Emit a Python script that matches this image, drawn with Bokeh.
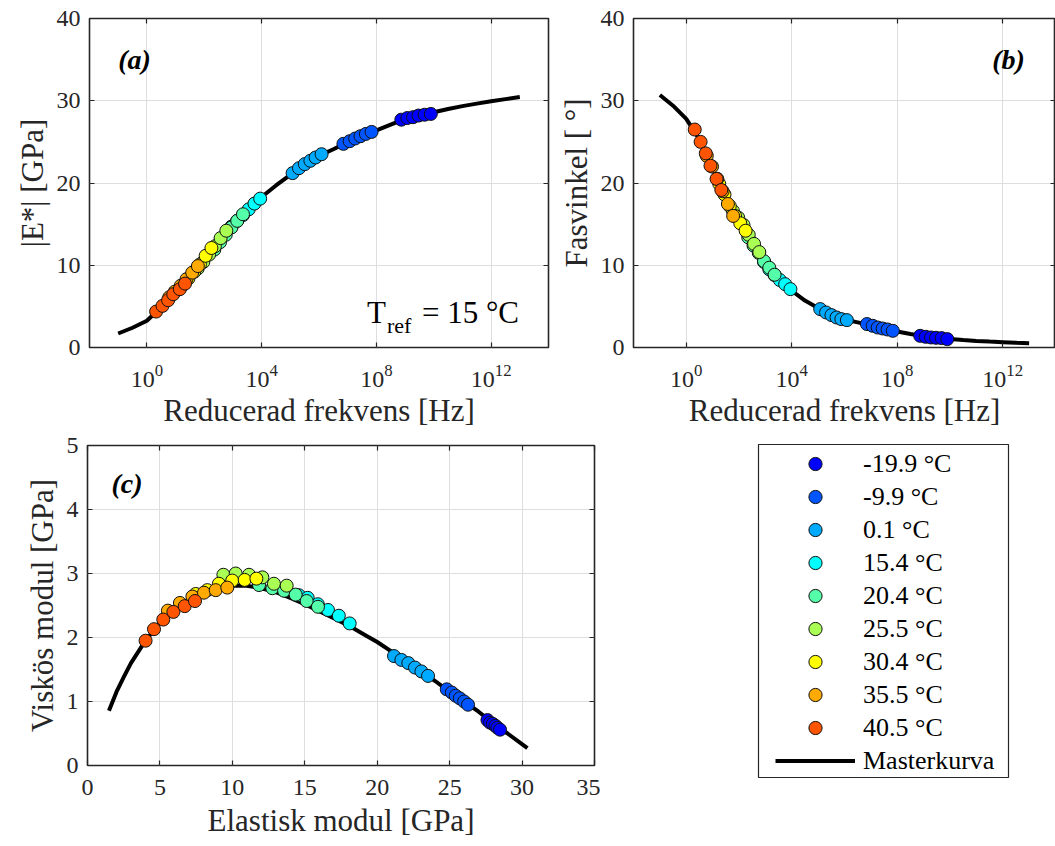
from bokeh.plotting import figure
from bokeh.layouts import column, row
from bokeh.models import Range1d, FixedTicker, LogAxis, LinearAxis, Label, Legend, LegendItem
from bokeh.embed import file_html
from bokeh.resources import INLINE

# ---------------- data ----------------
temps = ["-19.9 °C", "-9.9 °C", "0.1 °C", "15.4 °C", "20.4 °C",
         "25.5 °C", "30.4 °C", "35.5 °C", "40.5 °C"]
colors = ["#0000FF", "#0055FF", "#00AAFF", "#00FFFF", "#55FFAA",
          "#AAFF55", "#FFFF00", "#FFAA00", "#FF5500"]

# reduced frequency [Hz] per temperature
freq_hz = [
    [7.4e8, 1.2e9, 1.9e9, 2.95e9, 4.8e9, 7.9e9],
    [7.1e6, 1.17e7, 1.82e7, 2.8e7, 4.3e7, 6.8e7],
    [1.2e5, 2.0e5, 3.2e5, 5.0e5, 7.6e5, 1.23e6],
    [890, 1410, 2240, 3550, 5620, 8910],
    [224, 355, 562, 891, 1413, 2239],
    [59, 93, 148, 234, 372, 589],
    [17.8, 28.2, 44.7, 70.8, 112, 178],
    [6.0, 9.5, 15.1, 24, 38, 60],
    [2.1, 3.5, 5.5, 8.3, 14.1, 21.4],
]
# |E*| [GPa]
abs_mod = [
    [27.7, 27.9, 28.0, 28.2, 28.3, 28.4],
    [24.76, 25.08, 25.41, 25.69, 25.97, 26.21],
    [21.2, 21.8, 22.3, 22.7, 23.1, 23.5],
    [14.7, 15.4, 16.1, 16.8, 17.5, 18.1],
    [11.9, 12.8, 13.7, 14.6, 15.4, 16.2],
    [9.6, 10.4, 11.3, 12.3, 13.3, 14.2],
    [7.6, 8.4, 9.2, 10.1, 11.15, 12.1],
    [6.1, 6.8, 7.5, 8.3, 9.1, 9.9],
    [4.37, 5.06, 5.75, 6.48, 7.09, 7.77],
]
# phase angle [deg]
phase_deg = [
    [1.42, 1.30, 1.22, 1.18, 1.14, 1.02],
    [2.85, 2.64, 2.43, 2.31, 2.19, 2.03],
    [4.67, 4.26, 3.94, 3.65, 3.45, 3.33],
    [10.4, 9.5, 8.8, 8.2, 7.7, 7.1],
    [13.4, 12.4, 11.5, 10.5, 9.7, 8.85],
    [16.6, 15.8, 14.9, 13.7, 12.6, 11.6],
    [19.9, 18.6, 17.2, 16.0, 15.1, 14.2],
    [23.3, 22.0, 20.5, 19.0, 17.45, 16.0],
    [26.5, 25.0, 23.6, 22.1, 20.5, 19.15],
]
# elastic modulus E' [GPa]
elastic = [
    [27.61, 27.79, 27.98, 28.16, 28.3, 28.48],
    [24.8, 25.15, 25.42, 25.7, 26.0, 26.27],
    [21.16, 21.67, 22.15, 22.61, 23.05, 23.51],
    [14.6, 15.2, 15.9, 16.6, 17.35, 18.1],
    [11.84, 12.76, 13.57, 14.37, 15.13, 15.91],
    [9.38, 10.23, 11.15, 12.07, 12.87, 13.75],
    [7.47, 8.27, 9.07, 9.99, 10.85, 11.66],
    [5.55, 6.38, 7.24, 8.04, 8.85, 9.65],
    [4.01, 4.59, 5.23, 5.93, 6.71, 7.42],
]
# viscous modulus E'' [GPa]
viscous = [
    [0.71, 0.67, 0.65, 0.62, 0.59, 0.56],
    [1.19, 1.14, 1.09, 1.05, 1.0, 0.95],
    [1.71, 1.65, 1.60, 1.53, 1.47, 1.40],
    [2.66, 2.62, 2.52, 2.43, 2.34, 2.22],
    [2.82, 2.77, 2.73, 2.67, 2.57, 2.48],
    [2.98, 3.0, 2.98, 2.94, 2.84, 2.81],
    [2.68, 2.74, 2.84, 2.89, 2.90, 2.92],
    [2.42, 2.54, 2.64, 2.70, 2.74, 2.78],
    [1.95, 2.13, 2.28, 2.40, 2.49, 2.57],
]

# master curve
master_freq = [1e-1, 3.16e-1, 1e0, 3.16e0, 1e1, 3.16e1, 1e2, 3.16e2, 1e3, 3.16e3,
               1e4, 3.16e4, 1e5, 3.16e5, 1e6, 3.16e6, 1e7, 3.16e7, 1e8, 3.16e8,
               1e9, 3.16e9, 1e10, 3.16e10, 1e11, 3.16e11, 1e12, 3.16e12, 1e13]
master_abs = [1.7, 2.4, 3.25, 4.9, 6.7, 8.6, 10.6, 12.6, 14.9, 16.7,
              18.3, 19.7, 21.0, 22.2, 23.3, 24.1, 24.95, 25.7, 26.4, 27.1,
              27.8, 28.2, 28.6, 29.0, 29.35, 29.65, 29.95, 30.2, 30.45]
master_phase = [30.7, 29.4, 27.8, 25.3, 21.8, 18.0, 15.1, 12.8, 10.3, 8.2,
                6.9, 5.7, 4.8, 4.0, 3.4, 3.05, 2.7, 2.3, 1.95, 1.65,
                1.38, 1.17, 1.02, 0.9, 0.8, 0.72, 0.65, 0.58, 0.53]
master_elastic = [1.48, 2.0, 2.5, 3.0, 4.0, 5.0, 6.0, 7.0, 8.0, 9.0, 10.0, 11.0,
                  12.0, 13.0, 14.0, 15.0, 16.0, 17.0, 18.0, 19.0, 20.0, 21.0,
                  22.0, 23.0, 24.0, 25.0, 26.0, 27.0, 28.0, 29.0, 30.37]
master_viscous = [0.855, 1.15, 1.38, 1.6, 1.95, 2.23, 2.45, 2.6, 2.7, 2.77, 2.81, 2.81,
                  2.77, 2.71, 2.62, 2.52, 2.41, 2.3, 2.19, 2.06, 1.93, 1.78,
                  1.62, 1.48, 1.32, 1.15, 1.0, 0.84, 0.66, 0.5, 0.27]

freq_ticks = [1e0, 1e4, 1e8, 1e12]
deg_ticks = [0, 10, 20, 30, 40]
e1_ticks = [0, 5, 10, 15, 20, 25, 30, 35]
e2_ticks = [0, 1, 2, 3, 4, 5]

# ---------------- style helpers ----------------
FONT = "Liberation Serif"
AX = "#262626"
GRID = "#dedede"


def style_axis(ax, show, standoff=9, label_standoff=4):
    ax.axis_line_color = None
    ax.major_tick_in = 5
    ax.major_tick_out = 0
    ax.minor_tick_in = 0
    ax.minor_tick_out = 0
    ax.major_tick_line_color = AX
    ax.major_tick_line_width = 1.2
    ax.major_label_text_font = FONT
    ax.axis_label_text_font = FONT
    ax.axis_label_text_font_size = "31px"
    ax.axis_label_text_font_style = "normal"
    ax.axis_label_text_color = AX
    if show:
        ax.major_label_text_color = AX
        ax.major_label_text_font_size = "24px"
        ax.major_label_standoff = standoff
        ax.axis_label_standoff = label_standoff
    else:
        ax.major_label_text_color = None
        ax.major_label_text_font_size = "1px"
        ax.major_label_standoff = 0


def make_fig(width, height, xr, yr, xticks, yticks, log, borders, xlabel, ylabel,
             xstand, xlstand):
    l, r, t, b = borders
    p = figure(width=width, height=height, x_range=xr, y_range=yr,
               x_axis_type="log" if log else "linear",
               toolbar_location=None, output_backend="svg",
               min_border_left=l, min_border_right=r,
               min_border_top=t, min_border_bottom=b)
    p.background_fill_color = "white"
    p.border_fill_color = "white"
    p.outline_line_color = AX
    p.outline_line_width = 1.6
    bottom = p.below[0]
    left = p.left[0]
    bottom.ticker = FixedTicker(ticks=xticks, minor_ticks=[])
    left.ticker = FixedTicker(ticks=yticks, minor_ticks=[])
    p.xgrid.ticker = FixedTicker(ticks=xticks, minor_ticks=[])
    p.ygrid.ticker = FixedTicker(ticks=yticks, minor_ticks=[])
    for g in (p.xgrid[0], p.ygrid[0]):
        g.grid_line_color = GRID
        g.grid_line_width = 1
    style_axis(bottom, True, xstand, xlstand)
    style_axis(left, True)
    bottom.axis_label = xlabel
    left.axis_label = ylabel
    top = (LogAxis if log else LinearAxis)(ticker=FixedTicker(ticks=xticks, minor_ticks=[]))
    right = LinearAxis(ticker=FixedTicker(ticks=yticks, minor_ticks=[]))
    style_axis(top, False)
    style_axis(right, False)
    p.add_layout(top, "above")
    p.add_layout(right, "right")
    return p


def panel_label(p, x, y, text, align="left"):
    p.add_layout(Label(x=x, y=y, text=text, text_font=FONT, text_font_size="28px",
                       text_font_style="bold italic", text_color="black",
                       text_align=align, text_baseline="middle"))


# ---------------- (a) ----------------
pa = make_fig(555, 430, Range1d(1e-2, 1e14), Range1d(0, 40), freq_ticks, deg_ticks, True,
              (89, 7, 18, 83), "Reducerad frekvens [Hz]", "|E*| [GPa]", 17, 3)
pa.line(master_freq, master_abs, line_color="black", line_width=4)
for i in range(len(temps)):
    pa.scatter(freq_hz[i], abs_mod[i], size=13, fill_color=colors[i],
               line_color="#111111", line_width=1)
panel_label(pa, 1e-1, 35.0, "(a)")
tx = 4.7e7
ty = 4.25
pa.add_layout(Label(x=tx, y=ty, text="T", text_font=FONT, text_font_size="31px",
                    text_color="black", text_baseline="alphabetic"))
pa.add_layout(Label(x=tx, y=ty, x_offset=20, y_offset=-13, text="ref", text_font=FONT,
                    text_font_size="22px", text_color="black", text_baseline="alphabetic"))
pa.add_layout(Label(x=tx, y=ty, x_offset=55, text="= 15 °C", text_font=FONT,
                    text_font_size="31px", text_color="black", text_baseline="alphabetic"))

# ---------------- (b) ----------------
pb = make_fig(500, 430, Range1d(1e-2, 1e14), Range1d(0, 40), freq_ticks, deg_ticks, True,
              (78, 0, 18, 83), "Reducerad frekvens [Hz]", "Fasvinkel [ °]", 17, 3)
pb.line(master_freq, master_phase, line_color="black", line_width=4)
for i in range(len(temps)):
    pb.scatter(freq_hz[i], phase_deg[i], size=13, fill_color=colors[i],
               line_color="#111111", line_width=1)
panel_label(pb, 10 ** 12.84, 35.0, "(b)", align="right")

# ---------------- (c) ----------------
pc = make_fig(600, 416, Range1d(0, 35), Range1d(0, 5), e1_ticks, e2_ticks, False,
              (87, 6, 15, 81), "Elastisk modul [GPa]", "Viskös modul [GPa]", 14, 5)
pc.line(master_elastic, master_viscous, line_color="black", line_width=4)
for i in range(len(temps)):
    pc.scatter(elastic[i], viscous[i], size=13, fill_color=colors[i],
               line_color="#111111", line_width=1)
panel_label(pc, 1.66, 4.4, "(c)")

# ---------------- legend panel ----------------
pl = figure(width=455, height=416, x_range=Range1d(-2, -1), y_range=Range1d(-2, -1),
            x_axis_location=None, y_axis_location=None,
            toolbar_location=None, output_backend="svg",
            min_border_left=158, min_border_right=47, min_border_top=14, min_border_bottom=69)
pl.grid.visible = False
pl.outline_line_color = AX
pl.outline_line_width = 1.2
items = []
for i in range(len(temps)):
    r = pl.scatter(elastic[i], viscous[i], size=13, fill_color=colors[i],
                   line_color="#111111", line_width=1)
    items.append(LegendItem(label=temps[i], renderers=[r]))
rl = pl.line(master_elastic, master_viscous, line_color="black", line_width=4)
items.append(LegendItem(label="Masterkurva", renderers=[rl]))
leg = Legend(items=items, location=(17, 0), border_line_color=None,
             background_fill_alpha=0, padding=0, spacing=0, margin=0,
             glyph_width=80, glyph_height=33, label_height=33, label_standoff=8,
             label_text_font=FONT, label_text_font_size="26px", label_text_color="black")
pl.add_layout(leg)

layout = column(row(pa, pb), row(pc, column(pl)))
open("out.html", "w").write(file_html(layout, INLINE))
